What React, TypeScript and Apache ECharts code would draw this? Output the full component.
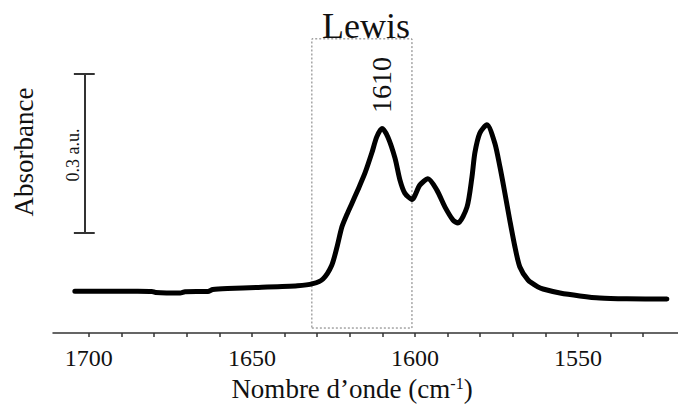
import React, { useEffect, useRef } from "react";
import * as echarts from "echarts";

// Wavenumber (cm-1) and absorbance (a.u.)
const wavenumber = [
  1704.3, 1695, 1685, 1680.7, 1679.5, 1672.0, 1670.5, 1663.5, 1662.0, 1657.5,
  1648.0, 1636.0, 1631.3, 1628.2, 1625.5, 1623.9, 1622.4, 1620.9, 1619.3, 1617.5,
  1615.3, 1613.2, 1611.7, 1610.1, 1608.3, 1606.1, 1604.6, 1603.1, 1600.9, 1598.5,
  1596.0, 1593.3, 1590.8, 1588.3, 1586.8, 1584.0, 1582.5, 1581.6, 1580.1, 1577.9,
  1575.5, 1573.9, 1572.4, 1570.9, 1569.3, 1567.8, 1565.3, 1562.3, 1560.7, 1555.5,
  1549.4, 1543.3, 1535.0, 1522.7,
];
const absorbance = [
  0.079, 0.079, 0.079, 0.0785, 0.0765, 0.0755, 0.078, 0.0785, 0.082, 0.084,
  0.086, 0.089, 0.093, 0.102, 0.128, 0.162, 0.200, 0.223, 0.245, 0.270,
  0.302, 0.340, 0.370, 0.386, 0.370, 0.330, 0.289, 0.264, 0.252, 0.279,
  0.291, 0.270, 0.238, 0.213, 0.2075, 0.238, 0.294, 0.340, 0.377, 0.393,
  0.3585, 0.313, 0.264, 0.213, 0.162, 0.1245, 0.100, 0.087, 0.083, 0.0755,
  0.070, 0.066, 0.0645, 0.064,
];

// Axis
const xMin = 1519.3;
const xMax = 1711;
const yMin = 0;
const yMax = 0.6;
const tickValues = [1530, 1540, 1550, 1560, 1570, 1580, 1590, 1600, 1610, 1620, 1630, 1640, 1650, 1660, 1670, 1680, 1690, 1700];
const labelValues = [1550, 1600, 1650, 1700];

// Annotations
const lewisBox = { from: 1631.6, to: 1600.9, bottom: 0.0094, top: 0.555 };
const scaleBar = { x: 1701.2, capLeft: 1704.6, capRight: 1698.2, bottom: 0.19, top: 0.49 };
const peakLabel = "1610";
const boxLabel = "Lewis";
const scaleLabel = "0.3 a.u.";
const yTitle = "Absorbance";

const FAMILY = "Liberation Serif";

export default function App() {
  const ref = useRef<HTMLDivElement>(null);

  useEffect(() => {
    if (!ref.current) return;
    const chart = echarts.init(ref.current, undefined, { renderer: "svg" });
    const curve = wavenumber.map((w, i) => [w, absorbance[i]]);

    const txt = (text: string, x: number, y: number, size: number, rotated: boolean) => ({
      type: "text",
      x,
      y,
      rotation: rotated ? Math.PI / 2 : 0,
      style: {
        text,
        fontSize: size,
        fontFamily: FAMILY,
        fill: "#111",
        textAlign: "center",
        textVerticalAlign: "middle",
      },
    });

    chart.setOption({
      animation: false,
      backgroundColor: "#ffffff",
      grid: {
        left: 53,
        right: 0,
        top: 15,
        bottom: 72,
        containLabel: false,
        outerBoundsMode: "none",
      },
      xAxis: {
        type: "value",
        min: xMin,
        max: xMax,
        inverse: true,
        axisLine: { show: true, lineStyle: { color: "#333", width: 1.5 } },
        axisTick: {
          show: true,
          length: 4,
          customValues: tickValues,
          lineStyle: { color: "#333", width: 1.5 },
        },
        axisLabel: {
          customValues: labelValues,
          formatter: (v: number) => String(Math.round(v)),
          margin: 13,
          color: "#111",
          fontSize: 24,
          fontFamily: FAMILY,
        },
        splitLine: { show: false },
      },
      yAxis: {
        type: "value",
        min: yMin,
        max: yMax,
        show: false,
      },
      series: [
        {
          type: "line",
          data: curve,
          showSymbol: false,
          smooth: 0.25,
          lineStyle: { color: "#000", width: 5, cap: "round", join: "round" },
          silent: true,
          markArea: {
            silent: true,
            itemStyle: {
              color: "rgba(0,0,0,0)",
              borderColor: "#777",
              borderWidth: 1,
              borderType: [2, 2],
            },
            label: { show: false },
            data: [
              [
                { coord: [lewisBox.from, lewisBox.bottom] },
                { coord: [lewisBox.to, lewisBox.top] },
              ],
            ],
          },
        },
        {
          type: "line",
          data: [],
          silent: true,
          markLine: {
            silent: true,
            symbol: ["none", "none"],
            label: { show: false },
            lineStyle: { color: "#333", width: 2, type: "solid" },
            data: [
              [
                { coord: [scaleBar.x, scaleBar.bottom] },
                { coord: [scaleBar.x, scaleBar.top] },
              ],
              [
                { coord: [scaleBar.capLeft, scaleBar.top] },
                { coord: [scaleBar.capRight, scaleBar.top] },
              ],
              [
                { coord: [scaleBar.capLeft, scaleBar.bottom] },
                { coord: [scaleBar.capRight, scaleBar.bottom] },
              ],
            ],
          },
        },
      ],
      graphic: [
        txt(boxLabel, 366, 26, 36, false),
        txt(peakLabel, 381, 85, 28, true),
        txt(scaleLabel, 73, 155, 18, true),
        txt(yTitle, 24, 152, 27, true),
        {
          type: "text",
          x: 352,
          y: 389,
          style: {
            text: "Nombre d’onde (cm{sup|-1})",
            fontSize: 27,
            fontFamily: FAMILY,
            fill: "#111",
            textAlign: "center",
            textVerticalAlign: "middle",
            rich: {
              sup: {
                fontSize: 16,
                fontFamily: FAMILY,
                fill: "#111",
                verticalAlign: "top",
              },
            },
          },
        },
      ],
    });

    return () => chart.dispose();
  }, []);

  return <div ref={ref} style={{ width: 678, height: 405, position: "fixed", left: 0, top: 0 }} />;
}
